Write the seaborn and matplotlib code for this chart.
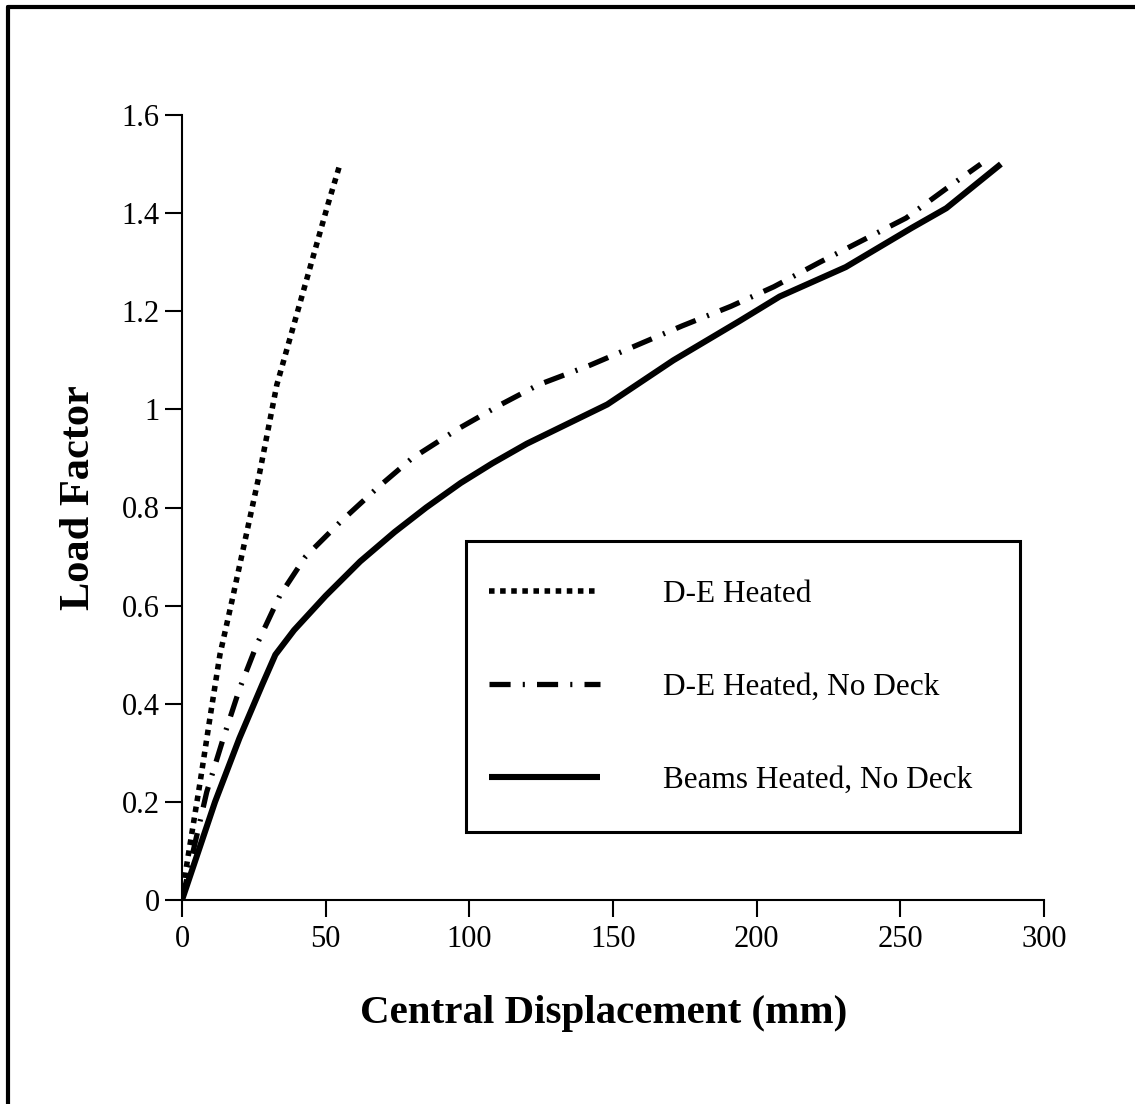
import matplotlib
matplotlib.use("Agg")
import matplotlib.pyplot as plt
import seaborn as sns
import pandas as pd
from matplotlib.lines import Line2D
from matplotlib.patches import Rectangle

# ---- data ----
de_heated_x = [0, 1.6, 6.3, 9.7, 13.2, 17.4, 27, 33, 41.7, 50.9, 55]
de_heated_y = [0, 0.07, 0.24, 0.37, 0.50, 0.61, 0.87, 1.05, 1.23, 1.42, 1.50]

de_nodeck_x = [0, 8.6, 14.4, 20, 26, 34, 43, 55, 68, 80, 96, 111, 124, 142, 158,
               174, 191, 206, 222, 237, 252, 266, 278]
de_nodeck_y = [0, 0.22, 0.33, 0.43, 0.52, 0.62, 0.70, 0.77, 0.84, 0.90, 0.96, 1.01,
               1.05, 1.09, 1.13, 1.17, 1.21, 1.25, 1.30, 1.345, 1.39, 1.45, 1.50]

beams_x = [0, 11.5, 20, 28, 32.5, 39, 50, 62, 74, 85, 97, 108, 120, 148, 171, 194,
           208, 231, 254, 266, 285]
beams_y = [0, 0.20, 0.33, 0.44, 0.50, 0.55, 0.62, 0.69, 0.75, 0.80, 0.85, 0.89, 0.93,
           1.01, 1.10, 1.18, 1.23, 1.29, 1.37, 1.41, 1.50]

series_names = ["D-E Heated", "D-E Heated, No Deck", "Beams Heated, No Deck"]
x_ticks = [0, 50, 100, 150, 200, 250, 300]
y_ticks = [0, 0.2, 0.4, 0.6, 0.8, 1.0, 1.2, 1.4, 1.6]
y_tick_labels = ["0", "0.2", "0.4", "0.6", "0.8", "1", "1.2", "1.4", "1.6"]

frames = []
for name, xs, ys in zip(series_names,
                        [de_heated_x, de_nodeck_x, beams_x],
                        [de_heated_y, de_nodeck_y, beams_y]):
    frames.append(pd.DataFrame({"disp": xs, "load": ys, "series": name}))
df = pd.concat(frames, ignore_index=True)

# ---- style ----
sns.set_theme(style="ticks")
plt.rcParams["font.family"] = ["Liberation Serif", "DejaVu Serif"]
plt.rcParams["text.color"] = "black"
plt.rcParams["axes.labelcolor"] = "black"

fig = plt.figure(figsize=(11.35, 11.04), dpi=100)
ax = fig.add_axes([182 / 1135, 1 - 900 / 1104, (1044 - 182) / 1135, (900 - 115) / 1104])

styles = {
    "D-E Heated": dict(lw=4.0, ls=(0, (1.0, 1.0)), dash_capstyle="butt"),
    "D-E Heated, No Deck": dict(lw=3.8, ls=(0, (4.0, 2.3, 0.4, 2.3)), dash_capstyle="butt"),
    "Beams Heated, No Deck": dict(lw=4.4, ls="-", solid_capstyle="butt"),
}

for name in series_names:
    sub = df[df["series"] == name]
    sns.lineplot(data=sub, x="disp", y="load", ax=ax, color="black",
                 sort=False, estimator=None, label=name, **styles[name])

ax.set_xlim(0, 300)
ax.set_ylim(0, 1.6)
ax.set_xticks(x_ticks)
ax.set_xticklabels([str(t) for t in x_ticks])
ax.set_yticks(y_ticks)
ax.set_yticklabels(y_tick_labels)
ax.tick_params(axis="both", direction="out", length=12, width=1.5, colors="black",
               labelcolor="black", labelsize=22, pad=6)
ax.tick_params(axis="y", pad=4)
for s in ["top", "right"]:
    ax.spines[s].set_visible(False)
for s in ["left", "bottom"]:
    ax.spines[s].set_linewidth(1.5)
    ax.spines[s].set_color("black")

ax.set_xlabel("Central Displacement (mm)", fontsize=29.5, fontweight="bold", color="black")
ax.set_ylabel("Load Factor", fontsize=30.5, fontweight="bold", color="black")
ax.xaxis.set_label_coords(0.4896, -0.121)
ax.yaxis.set_label_coords(-0.098, 0.512)

# legend
leg = ax.legend(loc="upper left", bbox_to_anchor=(0.338, 0.428), frameon=False,
                fontsize=22.5, handlelength=3.56, handletextpad=2.0, labelspacing=2.05,
                borderpad=0)
for line in leg.get_lines():
    line.set_color("black")
for txt in leg.get_texts():
    txt.set_color("black")
ax.add_patch(Rectangle((0.3295, 0.0866), 0.6425, 0.3704, transform=ax.transAxes,
                       fill=False, edgecolor="black", lw=2.2, clip_on=False, zorder=5))

# outer frame (left and top)
fig.add_artist(Line2D([8 / 1135, 8 / 1135], [0, 1 - 7 / 1104], transform=fig.transFigure,
                      color="black", lw=3))
fig.add_artist(Line2D([8 / 1135, 1], [1 - 7 / 1104, 1 - 7 / 1104], transform=fig.transFigure,
                      color="black", lw=3))

fig.savefig("out.png", dpi=100, facecolor="white")
